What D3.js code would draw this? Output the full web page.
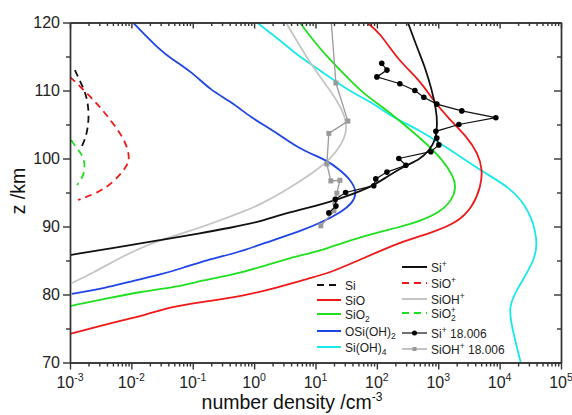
<!DOCTYPE html>
<html>
<head>
<meta charset="utf-8">
<script src="https://cdn.jsdelivr.net/npm/d3@7"></script>
<style>
    body { margin: 0; background: #fff; }
    svg { font-family: "Liberation Sans", Arial, sans-serif; }
</style>
</head>
<body>
<svg id="chart" width="572" height="415"></svg>
<script>
// every profile is [altitude z (km), number density (cm^-3)]
var Si = [[113.0, 0.0012], [110.8, 0.00157], [109.0, 0.00189], [106.7, 0.00204], [104.5, 0.00196], [102.7, 0.00175], [101.3, 0.00146]];
var SiO = [[120, 68.7], [118.5, 112], [114.5, 220], [111.5, 501], [108.6, 817], [105.7, 1545], [103.2, 2920], [100.8, 4415], [98.3, 5300], [95.8, 4900], [92.9, 3660], [90.5, 2010], [89.0, 730], [87.7, 237], [85.1, 52.8], [83.2, 17.2], [82.4, 8.1], [81.0, 2.35], [79.9, 0.76], [78.9, 0.147], [78.2, 0.0426], [77.0, 0.0179], [75.8, 0.00448], [74.2, 0.001]];
var SiO2 = [[120, 5.57], [117.4, 9.08], [114.5, 17.2], [112.0, 32.4], [109.6, 59.2], [107.1, 146], [105.5, 237], [102.7, 561], [99.8, 1190], [97.3, 1780], [95.8, 1950], [93.9, 1700], [92.1, 1060], [90.8, 501], [89.9, 237], [88.5, 52.8], [86.5, 13.2], [85.4, 3.83], [84.0, 1.24], [82.9, 0.452], [82.1, 0.147], [81.1, 0.0553], [80.4, 0.0138], [79.5, 0.00448], [78.3, 0.001]];
var OSiOH2 = [[120, 0.0106], [117.9, 0.0179], [116.0, 0.0292], [114.8, 0.0426], [112.6, 0.101], [110.1, 0.19], [108.2, 0.452], [106.1, 0.855], [104.0, 2.18], [101.3, 5.57], [99.8, 15.3], [98.3, 25], [96.8, 38], [95.1, 47], [93.5, 41], [92.0, 25], [90.5, 11.8], [89.3, 5.57], [88.0, 2.02], [86.1, 0.525], [85.1, 0.17], [83.9, 0.0692], [82.9, 0.0292], [81.8, 0.00847], [81.0, 0.00401], [80.1, 0.00107]];
var SiOH4 = [[120, 1.11], [117.4, 2.63], [114.9, 5.57], [113.0, 11.8], [110.1, 32.4], [108.2, 86], [106.0, 182], [104.2, 501], [101.3, 1545], [98.0, 5320], [95.8, 14650], [92.4, 31000], [88.0, 42000], [85.1, 38000], [80.7, 19050], [78.2, 13600], [74.0, 17000], [70, 22100]];
var SiPlus = [[120, 320], [116.0, 466], [113.5, 605], [110.1, 787], [107.1, 930], [104.9, 970], [102.7, 900], [101.3, 730], [99.8, 501], [98.8, 265], [97.1, 135], [95.7, 76.9], [93.9, 22.3], [92.7, 7.24], [91.7, 2.63], [90.7, 1.24], [89.8, 0.404], [89.0, 0.131], [88.0, 0.0292], [87.0, 0.00652], [85.8, 0.001]];
var SiOPlus = [[112.0, 0.001], [109.6, 0.00189], [107.6, 0.00308], [105.2, 0.00501], [102.7, 0.00787], [100.2, 0.0095], [98.8, 0.00847], [96.4, 0.00501], [94.9, 0.00275], [93.9, 0.00135]];
var SiOHPlus = [[120, 3.3], [114.0, 8.1], [110.1, 17.2], [107.1, 27.9], [104.6, 33.5], [102.3, 27.9], [99.8, 17.2], [97.9, 9.08], [95.4, 3.42], [93.2, 1.24], [92.4, 0.76], [90.7, 0.248], [89.2, 0.0805], [88.0, 0.0292], [86.8, 0.0138], [85.4, 0.00652], [83.2, 0.00237], [81.7, 0.00108]];
var SiO2Plus = [[102.7, 0.00104], [101.3, 0.00135], [100.1, 0.00169], [98.6, 0.00175], [97.3, 0.00163], [96.1, 0.0013]];
// measured profiles, 18.006
var SiPlusObs = [[114, 120], [113, 146], [112, 100], [111, 237], [110, 416], [109, 582], [108, 948], [107, 2420], [106, 8670], [105, 2170], [104, 914], [103, 948], [102, 1023], [101, 757], [100, 228], [99, 297], [98, 146], [97, 96], [96, 89], [95, 31], [94, 21], [93, 21.5], [92, 16.5]];
var SiOHPlusObs = [[122, 17.4], [111.1, 21.5], [105.5, 33.7], [103.7, 16.5], [99.2, 15.3], [96.7, 17.8], [96.8, 25], [94.9, 22.3], [93.5, 20.7], [92.3, 20], [90.1, 12.2]];

var xTicks = [1e-3, 1e-2, 1e-1, 1e0, 1e1, 1e2, 1e3, 1e4, 1e5];
var yTicks = [70, 80, 90, 100, 110, 120];

!function () {
    var svg = d3.select('#chart');
    var pLeft = 70, pRight = 561, pTop = 22.5, pBottom = 362.5;

    var x = d3.scaleLog().domain([1e-3, 1e5]).range([pLeft, pRight]);
    var y = d3.scaleLinear().domain([70, 120]).range([pBottom, pTop]);

    svg.append('clipPath').attr('id', 'plot')
        .append('rect')
        .attr('x', pLeft).attr('y', pTop)
        .attr('width', pRight - pLeft).attr('height', pBottom - pTop);

    // name parts: [text, kind]
    var series = [
        {data: SiOH4, color: '#19e8ea', dash: null, name: [['Si(OH)', ''], ['4', 'sub']], col: 0, ly: 347},
        {data: SiOHPlus, color: '#c4c4c4', dash: null, name: [['SiOH', ''], ['+', 'sup']], col: 1, ly: 299},
        {data: OSiOH2, color: '#1f45e6', dash: null, name: [['OSi(OH)', ''], ['2', 'sub']], col: 0, ly: 331},
        {data: SiO2, color: '#1fe01f', dash: null, name: [['SiO', ''], ['2', 'sub']], col: 0, ly: 314},
        {data: SiO, color: '#f01818', dash: null, name: [['SiO', '']], col: 0, ly: 300},
        {data: Si, color: '#111', dash: '7,5', name: [['Si', '']], col: 0, ly: 285},
        {data: SiOPlus, color: '#f01818', dash: '7,5', name: [['SiO', ''], ['+', 'sup']], col: 1, ly: 283},
        {data: SiO2Plus, color: '#1fe01f', dash: '7,5', name: [['SiO', ''], ['2', 'sub'], ['+', 'sup2']], col: 1, ly: 313},
        {data: SiPlus, color: '#111', dash: null, name: [['Si', ''], ['+', 'sup']], col: 1, ly: 267}
    ];

    // smooth model profiles
    var line = d3.line()
        .x(function (d) { return x(d[1]); })
        .y(function (d) { return y(d[0]); })
        .curve(d3.curveBasis);

    var plot = svg.append('g').attr('clip-path', 'url(#plot)');

    series.forEach(function (s) {
        plot.append('path')
            .attr('d', line(s.data))
            .attr('fill', 'none')
            .attr('stroke', s.color)
            .attr('stroke-width', 1.8)
            .attr('stroke-dasharray', s.dash);
    });

    // observed profiles: straight segments with markers
    var straight = d3.line()
        .x(function (d) { return x(d[1]); })
        .y(function (d) { return y(d[0]); });

    plot.append('path')
        .attr('d', straight(SiOHPlusObs))
        .attr('fill', 'none')
        .attr('stroke', '#9a9a9a')
        .attr('stroke-width', 1.3);
    plot.selectAll('rect.sq')
        .data(SiOHPlusObs)
        .enter()
        .append('rect')
        .attr('class', 'sq')
        .attr('x', function (d) { return x(d[1]) - 2.5; })
        .attr('y', function (d) { return y(d[0]) - 2.5; })
        .attr('width', 5).attr('height', 5)
        .attr('fill', '#9a9a9a');

    plot.append('path')
        .attr('d', straight(SiPlusObs))
        .attr('fill', 'none')
        .attr('stroke', '#111')
        .attr('stroke-width', 1.2);
    plot.selectAll('circle.dot')
        .data(SiPlusObs)
        .enter()
        .append('circle')
        .attr('class', 'dot')
        .attr('cx', function (d) { return x(d[1]); })
        .attr('cy', function (d) { return y(d[0]); })
        .attr('r', 2.8)
        .attr('fill', '#000');

    // axes
    var minorX = [];
    for (var e = -3; e < 5; e++) {
        for (var m = 2; m < 10; m++) minorX.push(m * Math.pow(10, e));
    }
    var minorY = [75, 85, 95, 105, 115];

    function styleAxis(g) {
        g.selectAll('path, line').attr('stroke', '#333').attr('stroke-width', 1.4);
        g.selectAll('text').remove();
    }

    svg.append('g').attr('transform', 'translate(0,' + pBottom + ')')
        .call(d3.axisBottom(x).tickValues(xTicks).tickSize(7).tickSizeOuter(0)).call(styleAxis);
    svg.append('g').attr('transform', 'translate(0,' + pBottom + ')')
        .call(d3.axisBottom(x).tickValues(minorX).tickSize(4).tickSizeOuter(0)).call(styleAxis);
    svg.append('g').attr('transform', 'translate(0,' + pTop + ')')
        .call(d3.axisTop(x).tickValues(xTicks).tickSize(-6).tickSizeOuter(0)).call(styleAxis);
    svg.append('g').attr('transform', 'translate(0,' + pTop + ')')
        .call(d3.axisTop(x).tickValues(minorX).tickSize(-3.5).tickSizeOuter(0)).call(styleAxis);
    svg.append('g').attr('transform', 'translate(' + pLeft + ',0)')
        .call(d3.axisLeft(y).tickValues(yTicks).tickSize(7).tickSizeOuter(0)).call(styleAxis);
    svg.append('g').attr('transform', 'translate(' + pLeft + ',0)')
        .call(d3.axisLeft(y).tickValues(minorY).tickSize(4).tickSizeOuter(0)).call(styleAxis);
    svg.append('g').attr('transform', 'translate(' + pRight + ',0)')
        .call(d3.axisRight(y).tickValues(yTicks).tickSize(-7).tickSizeOuter(0)).call(styleAxis);
    svg.append('g').attr('transform', 'translate(' + pRight + ',0)')
        .call(d3.axisRight(y).tickValues(minorY).tickSize(-4).tickSizeOuter(0)).call(styleAxis);

    // tick labels
    svg.selectAll('text.ylab')
        .data(yTicks)
        .enter()
        .append('text')
        .attr('class', 'ylab')
        .attr('x', 60)
        .attr('y', function (d) { return y(d); })
        .attr('dy', '0.36em')
        .attr('text-anchor', 'end')
        .attr('font-size', 16)
        .attr('fill', '#222')
        .text(function (d) { return d; });

    var xl = svg.selectAll('text.xlab')
        .data(xTicks)
        .enter()
        .append('text')
        .attr('class', 'xlab')
        .attr('x', function (d) { return x(d); })
        .attr('y', 388)
        .attr('text-anchor', 'middle')
        .attr('font-size', 16)
        .attr('fill', '#222');
    xl.append('tspan').text('10');
    xl.append('tspan')
        .attr('dy', -7)
        .attr('font-size', 10.5)
        .text(function (d) { return Math.round(Math.log10(d)); });

    // axis titles
    var xt = svg.append('text')
        .attr('x', 292)
        .attr('y', 409)
        .attr('text-anchor', 'middle')
        .attr('font-size', 19.5)
        .attr('fill', '#111');
    xt.append('tspan').text('number density /cm');
    xt.append('tspan').attr('dy', -8).attr('font-size', 12).text('-3');

    svg.append('text')
        .attr('transform', 'translate(25,191) rotate(-90)')
        .attr('text-anchor', 'middle')
        .attr('font-size', 19.5)
        .attr('fill', '#111')
        .text('z /km');

    // legend
    var legend = svg.append('g');
    var legendItems = series.slice();
    legendItems.push({color: '#111', dash: null, name: [['Si', ''], ['+', 'sup'], [' 18.006', 'back']], col: 1, ly: 333, marker: 'dot'});
    legendItems.push({color: '#9a9a9a', dash: null, name: [['SiOH', ''], ['+', 'sup'], [' 18.006', 'back']], col: 1, ly: 349, marker: 'sq'});

    legendItems.forEach(function (s) {
        var x0 = s.col === 0 ? 317 : 402;
        var len = s.col === 0 ? 24 : 25;
        legend.append('line')
            .attr('x1', x0).attr('x2', x0 + len)
            .attr('y1', s.ly).attr('y2', s.ly)
            .attr('stroke', s.color)
            .attr('stroke-width', s.marker ? 1.2 : 2)
            .attr('stroke-dasharray', s.dash);
        if (s.marker === 'dot') {
            legend.append('circle').attr('cx', x0 + len / 2).attr('cy', s.ly).attr('r', 2.5).attr('fill', '#000');
        }
        if (s.marker === 'sq') {
            legend.append('rect').attr('x', x0 + len / 2 - 2).attr('y', s.ly - 2).attr('width', 4).attr('height', 4).attr('fill', '#9a9a9a');
        }
        var t = legend.append('text')
            .attr('x', x0 + len + 4)
            .attr('y', s.ly + 4.5)
            .attr('font-size', 12)
            .attr('fill', '#222');
        s.name.forEach(function (p) {
            var ts = t.append('tspan').text(p[0]);
            if (p[1] === 'sub') ts.attr('font-size', 8.5).attr('dy', 3);
            if (p[1] === 'sup') ts.attr('font-size', 8.5).attr('dy', -5);
            if (p[1] === 'sup2') ts.attr('font-size', 8.5).attr('dy', -8).attr('dx', -5);
            if (p[1] === 'back') ts.attr('dy', 5);
        });
    });
}();
</script>
</body>
</html>
